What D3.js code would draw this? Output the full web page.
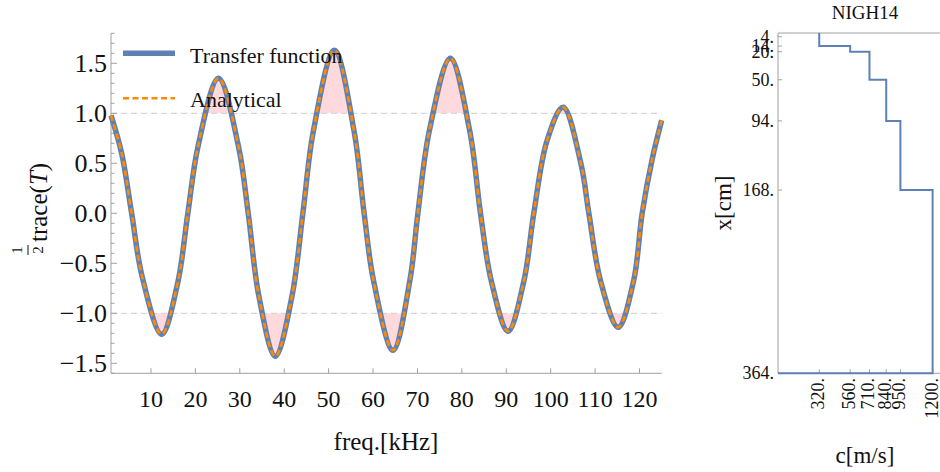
<!DOCTYPE html>
<html><head><meta charset="utf-8">
<script src="https://cdn.jsdelivr.net/npm/d3@7"></script>
<style>
html,body{margin:0;padding:0;background:#fff;}
svg{display:block;font-family:"Liberation Serif","Times New Roman",serif;}
</style></head>
<body>
<svg id="chart" width="940" height="472"></svg>
<script>
// ---- Left panel data: 1/2 trace(T) vs frequency (kHz) ----
const freq = [1, 3.4, 5.65, 8.0, 12.4, 16.0, 18.3, 20.6, 25.2, 29.7, 31.9, 34.3, 38.0, 41.75, 44.2, 46.6, 51.3, 55.7, 58.0, 60.1, 64.5, 68.3, 70.1, 72.7, 77.4, 81.75, 84.2, 86.6, 90.4, 94.0, 96.2, 99.2, 102.8, 106.8, 108.6, 111.2, 115.2, 118.7, 120.6, 122.9, 125];
const transfer = [0.98, 0.60, 0.00, -0.63, -1.21, -0.70, 0.00, 0.67, 1.35, 0.67, 0.00, -0.83, -1.43, -0.83, 0.00, 0.83, 1.63, 0.83, 0.00, -0.67, -1.37, -0.67, 0.00, 0.83, 1.55, 0.83, 0.00, -0.67, -1.18, -0.67, 0.00, 0.73, 1.06, 0.50, 0.00, -0.67, -1.14, -0.67, 0.00, 0.55, 0.93];
const analytical = transfer.slice();
const xTicks = [10, 20, 30, 40, 50, 60, 70, 80, 90, 100, 110, 120];
const yTicks = [-1.5, -1.0, -0.5, 0.0, 0.5, 1.0, 1.5];
const bands = [-1, 1];
const legendLabels = ["Transfer function", "Analytical"];

// ---- Right panel data: velocity profile NIGH14 ----
const depths = [0, 14, 20, 50, 94, 168, 364];
const speeds = [320, 560, 710, 840, 950, 1200];
const depthTicks = [4, 14, 20, 50, 94, 168, 364];
const speedTicks = [320, 560, 710, 840, 950, 1200];

const svg = d3.select("#chart");
const blue = "#5e81b5", orange = "#ff8a00", axisCol = "#a0a0a0";

// ================= LEFT PANEL =================
const x = d3.scaleLinear().domain([1, 125]).range([111, 661.7]);
const y = d3.scaleLinear().domain([-1.6, 1.8]).range([373.3, 33.3]);
const L = svg.append("g");

const defs = svg.append("defs");
defs.append("clipPath").attr("id", "above").append("rect")
  .attr("x", x(1)).attr("y", y(1.8)).attr("width", x(125) - x(1)).attr("height", y(1) - y(1.8));
defs.append("clipPath").attr("id", "below").append("rect")
  .attr("x", x(1)).attr("y", y(-1)).attr("width", x(125) - x(1)).attr("height", y(-1.6) - y(-1));

const pts = freq.map((f, i) => [f, transfer[i]]);
const curve = d3.curveCatmullRom.alpha(0.5);
// pink filling where |v|>1
[["above", 1], ["below", -1]].forEach(([id, lvl]) => {
  L.append("path")
    .attr("clip-path", `url(#${id})`)
    .attr("fill", "#ffd9dc")
    .attr("d", d3.area().curve(curve).x(d => x(d[0])).y0(y(lvl)).y1(d => y(d[1]))(pts));
});

// dashed reference lines
bands.forEach(b => {
  L.append("line").attr("x1", x(1)).attr("x2", x(125)).attr("y1", y(b)).attr("y2", y(b))
    .attr("stroke", "#cfcfcf").attr("stroke-width", 1).attr("stroke-dasharray", "6,4");
});

// axes
L.append("line").attr("x1", x(1)).attr("x2", x(1)).attr("y1", y(1.8)).attr("y2", y(-1.6))
  .attr("stroke", axisCol).attr("stroke-width", 1);
L.append("line").attr("x1", x(1)).attr("x2", x(125)).attr("y1", y(-1.6)).attr("y2", y(-1.6))
  .attr("stroke", axisCol).attr("stroke-width", 1);
d3.range(-16, 19).forEach(k => {
  const v = k / 10;
  const major = yTicks.some(t => Math.abs(t - v) < 1e-9);
  L.append("line").attr("x1", x(1)).attr("x2", x(1) + (major ? 6 : 3.5))
    .attr("y1", y(v)).attr("y2", y(v)).attr("stroke", axisCol).attr("stroke-width", 1);
});
const fmt = d3.format(".1f");
yTicks.forEach(t => {
  L.append("text").attr("x", 107).attr("y", y(t)).attr("dy", "0.34em")
    .attr("text-anchor", "end").attr("font-size", 26).attr("fill", "#111").text(fmt(t));
});
xTicks.forEach(t => {
  L.append("line").attr("x1", x(t)).attr("x2", x(t)).attr("y1", y(-1.6)).attr("y2", y(-1.6) - 5)
    .attr("stroke", axisCol).attr("stroke-width", 1);
  L.append("text").attr("x", x(t)).attr("y", 407).attr("text-anchor", "middle")
    .attr("font-size", 24).attr("fill", "#111").text(t);
});

// curves
const line = d3.line().curve(curve).x(d => x(d[0])).y(d => y(d[1]));
L.append("path").attr("d", line(pts)).attr("fill", "none").attr("stroke", blue)
  .attr("stroke-width", 5.5).attr("stroke-linejoin", "round");
L.append("path").attr("d", line(freq.map((f, i) => [f, analytical[i]]))).attr("fill", "none")
  .attr("stroke", orange).attr("stroke-width", 2.6).attr("stroke-dasharray", "6,3.5");

// legend
L.append("line").attr("x1", 123).attr("x2", 175).attr("y1", 53.3).attr("y2", 53.3)
  .attr("stroke", blue).attr("stroke-width", 5.5);
L.append("line").attr("x1", 123).attr("x2", 175).attr("y1", 98.3).attr("y2", 98.3)
  .attr("stroke", orange).attr("stroke-width", 2.6).attr("stroke-dasharray", "6,3.5");
L.append("text").attr("x", 190).attr("y", 62.7).attr("font-size", 22).attr("fill", "#111").text(legendLabels[0]);
L.append("text").attr("x", 190).attr("y", 107.3).attr("font-size", 22).attr("fill", "#111").text(legendLabels[1]);

// axis labels
L.append("text").attr("x", 386).attr("y", 450).attr("text-anchor", "middle")
  .attr("font-size", 25).attr("fill", "#111").text("freq.[kHz]");
const yl = L.append("g").attr("transform", "translate(47,250) rotate(-90)");
yl.append("text").attr("x", 0).attr("y", -4).attr("text-anchor", "middle").attr("font-size", 15).attr("fill", "#111").text("2");
yl.append("line").attr("x1", -5).attr("x2", 5).attr("y1", -19).attr("y2", -19).attr("stroke", "#111").attr("stroke-width", 1);
yl.append("text").attr("x", 0).attr("y", -25).attr("text-anchor", "middle").attr("font-size", 15).attr("fill", "#111").text("1");
const tr = yl.append("text").attr("x", 8).attr("y", 0).attr("font-size", 25).attr("fill", "#111");
tr.append("tspan").text("trace(");
tr.append("tspan").attr("font-style", "italic").text("T");
tr.append("tspan").text(")");

// ================= RIGHT PANEL =================
const cx = d3.scaleLinear().domain([0, 1265]).range([778, 941]);
const dy = d3.scaleLinear().domain([0, 364]).range([33, 373.3]);
const R = svg.append("g");
R.append("line").attr("x1", cx(0)).attr("x2", 940).attr("y1", dy(0)).attr("y2", dy(0)).attr("stroke", axisCol);
R.append("line").attr("x1", cx(0)).attr("x2", cx(0)).attr("y1", dy(0)).attr("y2", dy(364)).attr("stroke", axisCol);
R.append("line").attr("x1", cx(0)).attr("x2", 940).attr("y1", dy(364)).attr("y2", dy(364)).attr("stroke", axisCol);
depthTicks.forEach(t => {
  R.append("line").attr("x1", cx(0)).attr("x2", cx(0) + 4).attr("y1", dy(t)).attr("y2", dy(t)).attr("stroke", axisCol);
  R.append("text").attr("x", 774).attr("y", dy(t)).attr("dy", "0.34em").attr("text-anchor", "end")
    .attr("font-size", 18).attr("fill", "#111").text(t + ".");
});
speedTicks.forEach(t => {
  R.append("line").attr("x1", cx(t)).attr("x2", cx(t)).attr("y1", dy(364)).attr("y2", dy(364) - 4).attr("stroke", axisCol);
  R.append("text").attr("transform", `translate(${cx(t) + 5},378) rotate(-90)`)
    .attr("text-anchor", "end").attr("font-size", 18).attr("fill", "#111").text(t + ".");
});
// step profile
const prof = [[speeds[0], depths[0]]];
speeds.forEach((s, i) => {
  prof.push([s, depths[i + 1]]);
  if (i + 1 < speeds.length) prof.push([speeds[i + 1], depths[i + 1]]);
});
prof.push([0, depths[depths.length - 1]]);
R.append("path").attr("d", d3.line().x(d => cx(d[0])).y(d => dy(d[1]))(prof))
  .attr("fill", "none").attr("stroke", blue).attr("stroke-width", 2);

R.append("text").attr("x", 865).attr("y", 19).attr("text-anchor", "middle").attr("font-size", 19).attr("fill", "#111").text("NIGH14");
R.append("text").attr("x", 865).attr("y", 463).attr("text-anchor", "middle").attr("font-size", 23).attr("fill", "#111").text("c[m/s]");
R.append("text").attr("transform", "translate(731,203) rotate(-90)").attr("text-anchor", "middle")
  .attr("font-size", 23).attr("fill", "#111").text("x[cm]");
</script>
</body></html>
